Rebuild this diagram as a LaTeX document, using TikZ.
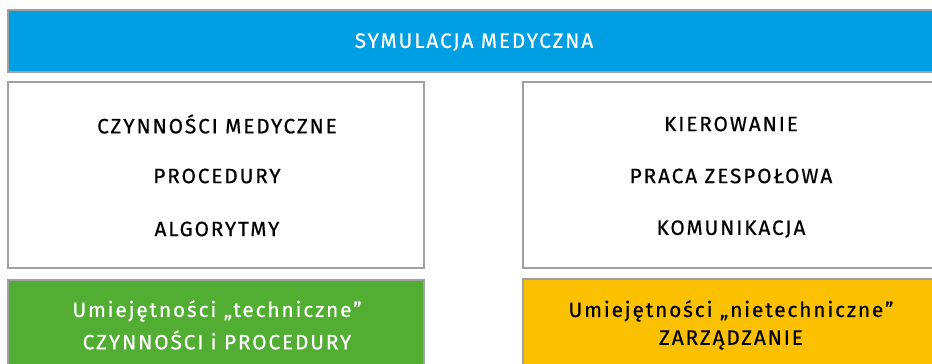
\documentclass[tikz,border=0pt]{standalone}
\usepackage{fontspec}
\setmainfont{Fira Sans}
\newfontfamily\capsfont[LetterSpace=9,FakeBold=0.5]{Fira Sans}

\definecolor{simblue}{RGB}{0,159,227}
\definecolor{techgreen}{RGB}{82,174,50}
\definecolor{mgmtyellow}{RGB}{251,192,0}
\definecolor{framegray}{RGB}{160,160,160}

\tikzset{
  panel/.style={draw=framegray,line width=1.6pt},
  label/.style={font=\capsfont\fontsize{20.8}{24}\selectfont,inner sep=0pt},
}

\begin{document}
\begin{tikzpicture}[x=1pt,y=-1pt]
\useasboundingbox (0,0) rectangle (932,364);
\clip (0,0) rectangle (932,364);

% Header bar
\fill[panel,fill=simblue] (8,10) rectangle (940,72);
\node[label,white] (title) at (474,42) {SYMULACJA MEDYCZNA};

% Left column: technical skills
\draw[panel,fill=white] (8,82) rectangle (424,268);
\node[label] (czynnosci) at (217,124) {CZYNNOŚCI MEDYCZNE};
\node[label] (procedury) at (217,176) {PROCEDURY};
\node[label] (algorytmy) at (217,229) {ALGORYTMY};

\fill[panel,fill=techgreen] (8,280) rectangle (424,372);
\node[label,white] (techline) at (217,311) {Umiejętności „techniczne”};
\node[label,white] (techcaps) at (217,340) {CZYNNOŚCI i PROCEDURY};

% Right column: non-technical skills
\draw[panel,fill=white] (523,82) rectangle (940,268);
\node[label] (kierowanie) at (731,124) {KIEROWANIE};
\node[label] (praca) at (731,176) {PRACA ZESPOŁOWA};
\node[label] (komunikacja) at (731,229) {KOMUNIKACJA};

\fill[panel,fill=mgmtyellow] (523,279) rectangle (940,372);
\node[label] (nontechline) at (731,311) {Umiejętności „nietechniczne”};
\node[label] (nontechcaps) at (731,340) {ZARZĄDZANIE};
\end{tikzpicture}
\end{document}
